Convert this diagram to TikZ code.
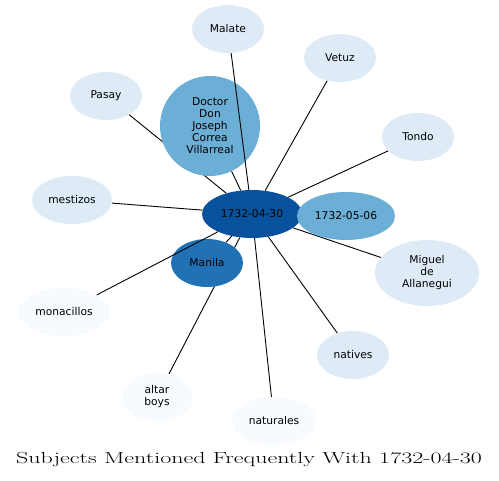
\documentclass[tikz,border=0pt]{standalone}
\usepackage{fontspec}
\usepackage{graphicx}
\newfontfamily\nodefont{DejaVu Sans}
\usepackage{tikz}
\usetikzlibrary{shapes.geometric}

\definecolor{bluedark}{HTML}{08519C}
\definecolor{bluestrong}{HTML}{2171B5}
\definecolor{bluemid}{HTML}{6BAED6}
\definecolor{bluepale}{HTML}{DEEBF7}
\definecolor{bluefaint}{HTML}{F7FBFF}

\pgfdeclarelayer{background}
\pgfdeclarelayer{foreground}
\pgfsetlayers{background,main,foreground}

\begin{document}
\begin{tikzpicture}[
    x=1pt, y=-1pt,
    % --- Styles ---
    subject/.style={
        ellipse,
        draw=none,
        fill=bluepale,
        inner sep=0pt,
        minimum width=72pt,
        minimum height=48pt,
        align=center,
        font=\nodefont\fontsize{10.7}{12}\selectfont
    },
    hub/.style={
        subject,
        fill=bluedark,
        minimum width=100pt
    },
    rare/.style={
        subject,
        fill=bluefaint
    },
    link/.style={
        draw=black,
        line width=0.9pt
    }
]
\useasboundingbox (0,0) rectangle (499,481);

% --- Nodes (at coordinates) ---
\node[hub] (d0430) at (252,214) {1732-04-30};
\node[subject, fill=bluemid, minimum width=98pt] (d0506) at (346,216) {1732-05-06};
\node[subject, fill=bluemid, minimum width=100pt, minimum height=100pt] (correa) at (210,126)
    {Doctor\\Don\\Joseph\\Correa\\Villarreal};
\node[subject, fill=bluestrong] (manila) at (207,263) {Manila};

\node[subject] (malate) at (228,29) {Malate};
\node[subject] (vetuz) at (340,58) {Vetuz};
\node[subject] (tondo) at (418,137) {Tondo};
\node[subject] (pasay) at (106,96) {Pasay};
\node[subject, minimum width=80pt] (mestizos) at (72,200) {mestizos};
\node[subject, minimum width=104pt, minimum height=66pt] (allanegui) at (427,273) {Miguel\\de\\Allanegui};
\node[subject] (natives) at (353,355) {natives};
\node[rare, minimum width=92pt] (monacillos) at (64,312) {monacillos};
\node[rare] (altarboys) at (157,397) {altar\\boys};
\node[rare, minimum width=84pt] (naturales) at (274,421) {naturales};

% --- Edges ---
\begin{pgfonlayer}{background}
\draw[link] (d0430) -- (d0506);
\draw[link] (d0430) -- (correa);
\draw[link] (d0430) -- (manila);
\draw[link] (d0430) -- (vetuz);
\draw[link] (d0430) -- (tondo);
\draw[link] (d0430) -- (pasay);
\draw[link] (d0430) -- (mestizos);
\draw[link] (d0430) -- (allanegui);
\draw[link] (d0430) -- (natives);
\draw[link] (d0430) -- (altarboys);
\draw[link] (d0430) -- (naturales);
\end{pgfonlayer}
% these two cross over other nodes
\begin{pgfonlayer}{foreground}
\draw[link] (d0430) -- (malate);
\draw[link] (d0430) -- (monacillos);
\end{pgfonlayer}

% --- Title ---
\node[font=\fontsize{16}{19}\selectfont] (title) at (249,460)
    {\scalebox{1.5}[1]{Subjects Mentioned Frequently With 1732-04-30}};
\end{tikzpicture}
\end{document}
